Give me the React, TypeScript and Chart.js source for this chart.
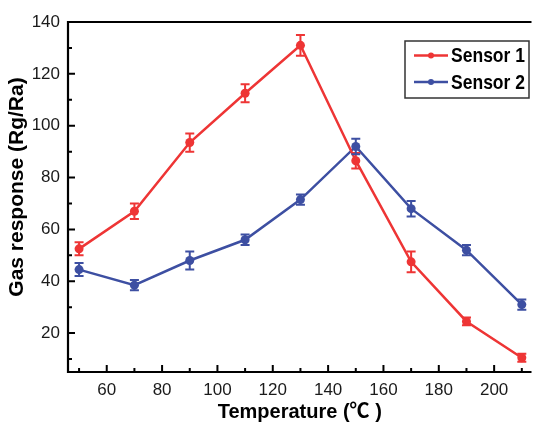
import React, { useEffect, useRef } from "react";
import { Chart, registerables } from "chart.js";

Chart.register(...registerables);

const temps = [50, 70, 90, 110, 130, 150, 170, 190, 210];
const sensor1 = [52.5, 67, 93.5, 112.5, 131, 86.5, 47.5, 24.5, 10.5];
const sensor1Err = [2.5, 3, 3.5, 3.5, 4, 3, 4, 1.5, 1.5];
const sensor2 = [44.5, 38.5, 48, 56, 71.5, 92, 68, 52, 31];
const sensor2Err = [2.5, 2, 3.5, 2, 2, 3, 3, 2, 2];
const seriesNames = ["Sensor 1", "Sensor 2"];
const xMajorTicks = [60, 80, 100, 120, 140, 160, 180, 200];
const xMinorTicks = [50, 70, 90, 110, 130, 150, 170, 190, 210];
const yMajorTicks = [20, 40, 60, 80, 100, 120, 140];
const yMinorTicks = [10, 30, 50, 70, 90, 110, 130];
const xTitle = "Temperature (℃ )";
const yTitle = "Gas response (Rg/Ra)";

const RED = "#ee3535";
const BLUE = "#3d4fa2";
const FONT = "'Liberation Sans', Arial, 'Noto Sans CJK SC', sans-serif";

const errors = [sensor1Err, sensor2Err];

const decorPlugin = {
  id: "decor",
  afterDatasetsDraw(chart: any) {
    const ctx = chart.ctx;
    const xs = chart.scales.x;
    const ys = chart.scales.y;
    ctx.save();
    chart.data.datasets.forEach((ds: any, di: number) => {
      ctx.strokeStyle = ds.borderColor;
      ctx.lineWidth = 2;
      ds.data.forEach((p: any, i: number) => {
        const e = errors[di][i];
        const px = xs.getPixelForValue(p.x);
        const top = ys.getPixelForValue(p.y + e);
        const bot = ys.getPixelForValue(p.y - e);
        ctx.beginPath();
        ctx.moveTo(px, top);
        ctx.lineTo(px, bot);
        ctx.moveTo(px - 4.5, top);
        ctx.lineTo(px + 4.5, top);
        ctx.moveTo(px - 4.5, bot);
        ctx.lineTo(px + 4.5, bot);
        ctx.stroke();
      });
    });
    ctx.restore();
  },
  afterDraw(chart: any) {
    const ctx = chart.ctx;
    const { left, right, top, bottom } = chart.chartArea;
    const xs = chart.scales.x;
    const ys = chart.scales.y;
    ctx.save();
    ctx.strokeStyle = "#000";
    ctx.lineWidth = 2.2;
    ctx.beginPath();
    ctx.moveTo(left, top);
    ctx.lineTo(right, top);
    ctx.moveTo(left, top - 1);
    ctx.lineTo(left, bottom);
    ctx.lineTo(right, bottom);
    ctx.stroke();
    ctx.lineWidth = 2;
    ctx.beginPath();
    xMajorTicks.forEach((v) => {
      const px = xs.getPixelForValue(v);
      ctx.moveTo(px, bottom);
      ctx.lineTo(px, bottom - 7);
    });
    xMinorTicks.forEach((v) => {
      const px = xs.getPixelForValue(v);
      ctx.moveTo(px, bottom);
      ctx.lineTo(px, bottom - 4);
    });
    yMajorTicks.forEach((v) => {
      const py = ys.getPixelForValue(v);
      ctx.moveTo(left, py);
      ctx.lineTo(left + 7, py);
    });
    yMinorTicks.forEach((v) => {
      const py = ys.getPixelForValue(v);
      ctx.moveTo(left, py);
      ctx.lineTo(left + 4, py);
    });
    ctx.stroke();

    // y axis title
    ctx.save();
    ctx.translate(17, 187);
    ctx.rotate(-Math.PI / 2);
    ctx.fillStyle = "#000";
    ctx.font = "bold 21px " + FONT;
    ctx.textAlign = "center";
    ctx.textBaseline = "middle";
    ctx.fillText(yTitle, 0, 0);
    ctx.restore();

    // legend
    const bx = 405, by = 41, bw = 124, bh = 57;
    ctx.fillStyle = "#fff";
    ctx.fillRect(bx, by, bw, bh);
    ctx.strokeStyle = "#333";
    ctx.lineWidth = 1.5;
    ctx.strokeRect(bx, by, bw, bh);
    const rows = [55.5, 82];
    chart.data.datasets.forEach((ds: any, i: number) => {
      const y = rows[i];
      ctx.strokeStyle = ds.borderColor;
      ctx.lineWidth = 2.5;
      ctx.beginPath();
      ctx.moveTo(414, y);
      ctx.lineTo(448, y);
      ctx.stroke();
      ctx.fillStyle = ds.borderColor;
      ctx.beginPath();
      ctx.arc(431, y, 3, 0, Math.PI * 2);
      ctx.fill();
      ctx.fillStyle = "#000";
      ctx.font = "bold 21px 'Liberation Sans', Arial, sans-serif";
      ctx.textAlign = "left";
      ctx.textBaseline = "middle";
      const w = ctx.measureText(seriesNames[i]).width;
      const sx = 74 / w;
      ctx.save();
      ctx.translate(451, y + 1);
      ctx.scale(sx, 1);
      ctx.fillText(seriesNames[i], 0, 0);
      ctx.restore();
    });
    ctx.restore();
  },
};

export default function App() {
  const ref = useRef<HTMLCanvasElement>(null);
  useEffect(() => {
    if (!ref.current) return;
    const mk = (ys: number[]) => temps.map((t, i) => ({ x: t, y: ys[i] }));
    const chart = new Chart(ref.current, {
      type: "line",
      data: {
        datasets: [
          {
            label: seriesNames[0],
            data: mk(sensor1),
            borderColor: RED,
            backgroundColor: RED,
            borderWidth: 2.5,
            pointRadius: 4.5,
            pointBorderWidth: 0,
            pointBackgroundColor: RED,
            tension: 0,
          },
          {
            label: seriesNames[1],
            data: mk(sensor2),
            borderColor: BLUE,
            backgroundColor: BLUE,
            borderWidth: 2.5,
            pointRadius: 4.5,
            pointBorderWidth: 0,
            pointBackgroundColor: BLUE,
            tension: 0,
          },
        ],
      },
      options: {
        responsive: false,
        animation: false,
        layout: { padding: { top: 22, right: 0, left: 0, bottom: 0 } },
        plugins: { legend: { display: false }, tooltip: { enabled: false } },
        scales: {
          x: {
            type: "linear",
            min: 46,
            max: 213.5,
            afterBuildTicks: (s: any) => {
              s.ticks = xMajorTicks.map((v) => ({ value: v }));
            },
            afterFit: (s: any) => {
              s.height = 52;
            },
            grid: { display: false, drawTicks: false },
            border: { display: false },
            ticks: {
              padding: 8,
              color: "#1a1a1a",
              font: { family: FONT, size: 17 },
              maxRotation: 0,
            },
            title: {
              display: true,
              text: xTitle,
              color: "#000",
              font: { family: FONT, size: 20, weight: "bold" },
              padding: { top: 0, bottom: 0 },
            },
          },
          y: {
            type: "linear",
            min: 5,
            max: 140,
            afterBuildTicks: (s: any) => {
              s.ticks = yMajorTicks.map((v) => ({ value: v }));
            },
            afterFit: (s: any) => {
              s.width = 68;
            },
            grid: { display: false, drawTicks: false },
            border: { display: false },
            ticks: {
              padding: 8,
              color: "#1a1a1a",
              font: { family: FONT, size: 17 },
            },
            title: { display: false },
          },
        },
      },
      plugins: [decorPlugin],
    } as any);
    return () => chart.destroy();
  }, []);
  return (
    <div style={{ position: "absolute", left: 0, top: 0, width: 536, height: 424, background: "#fff" }}>
      <canvas ref={ref} width={536} height={424} style={{ display: "block" }} />
    </div>
  );
}
